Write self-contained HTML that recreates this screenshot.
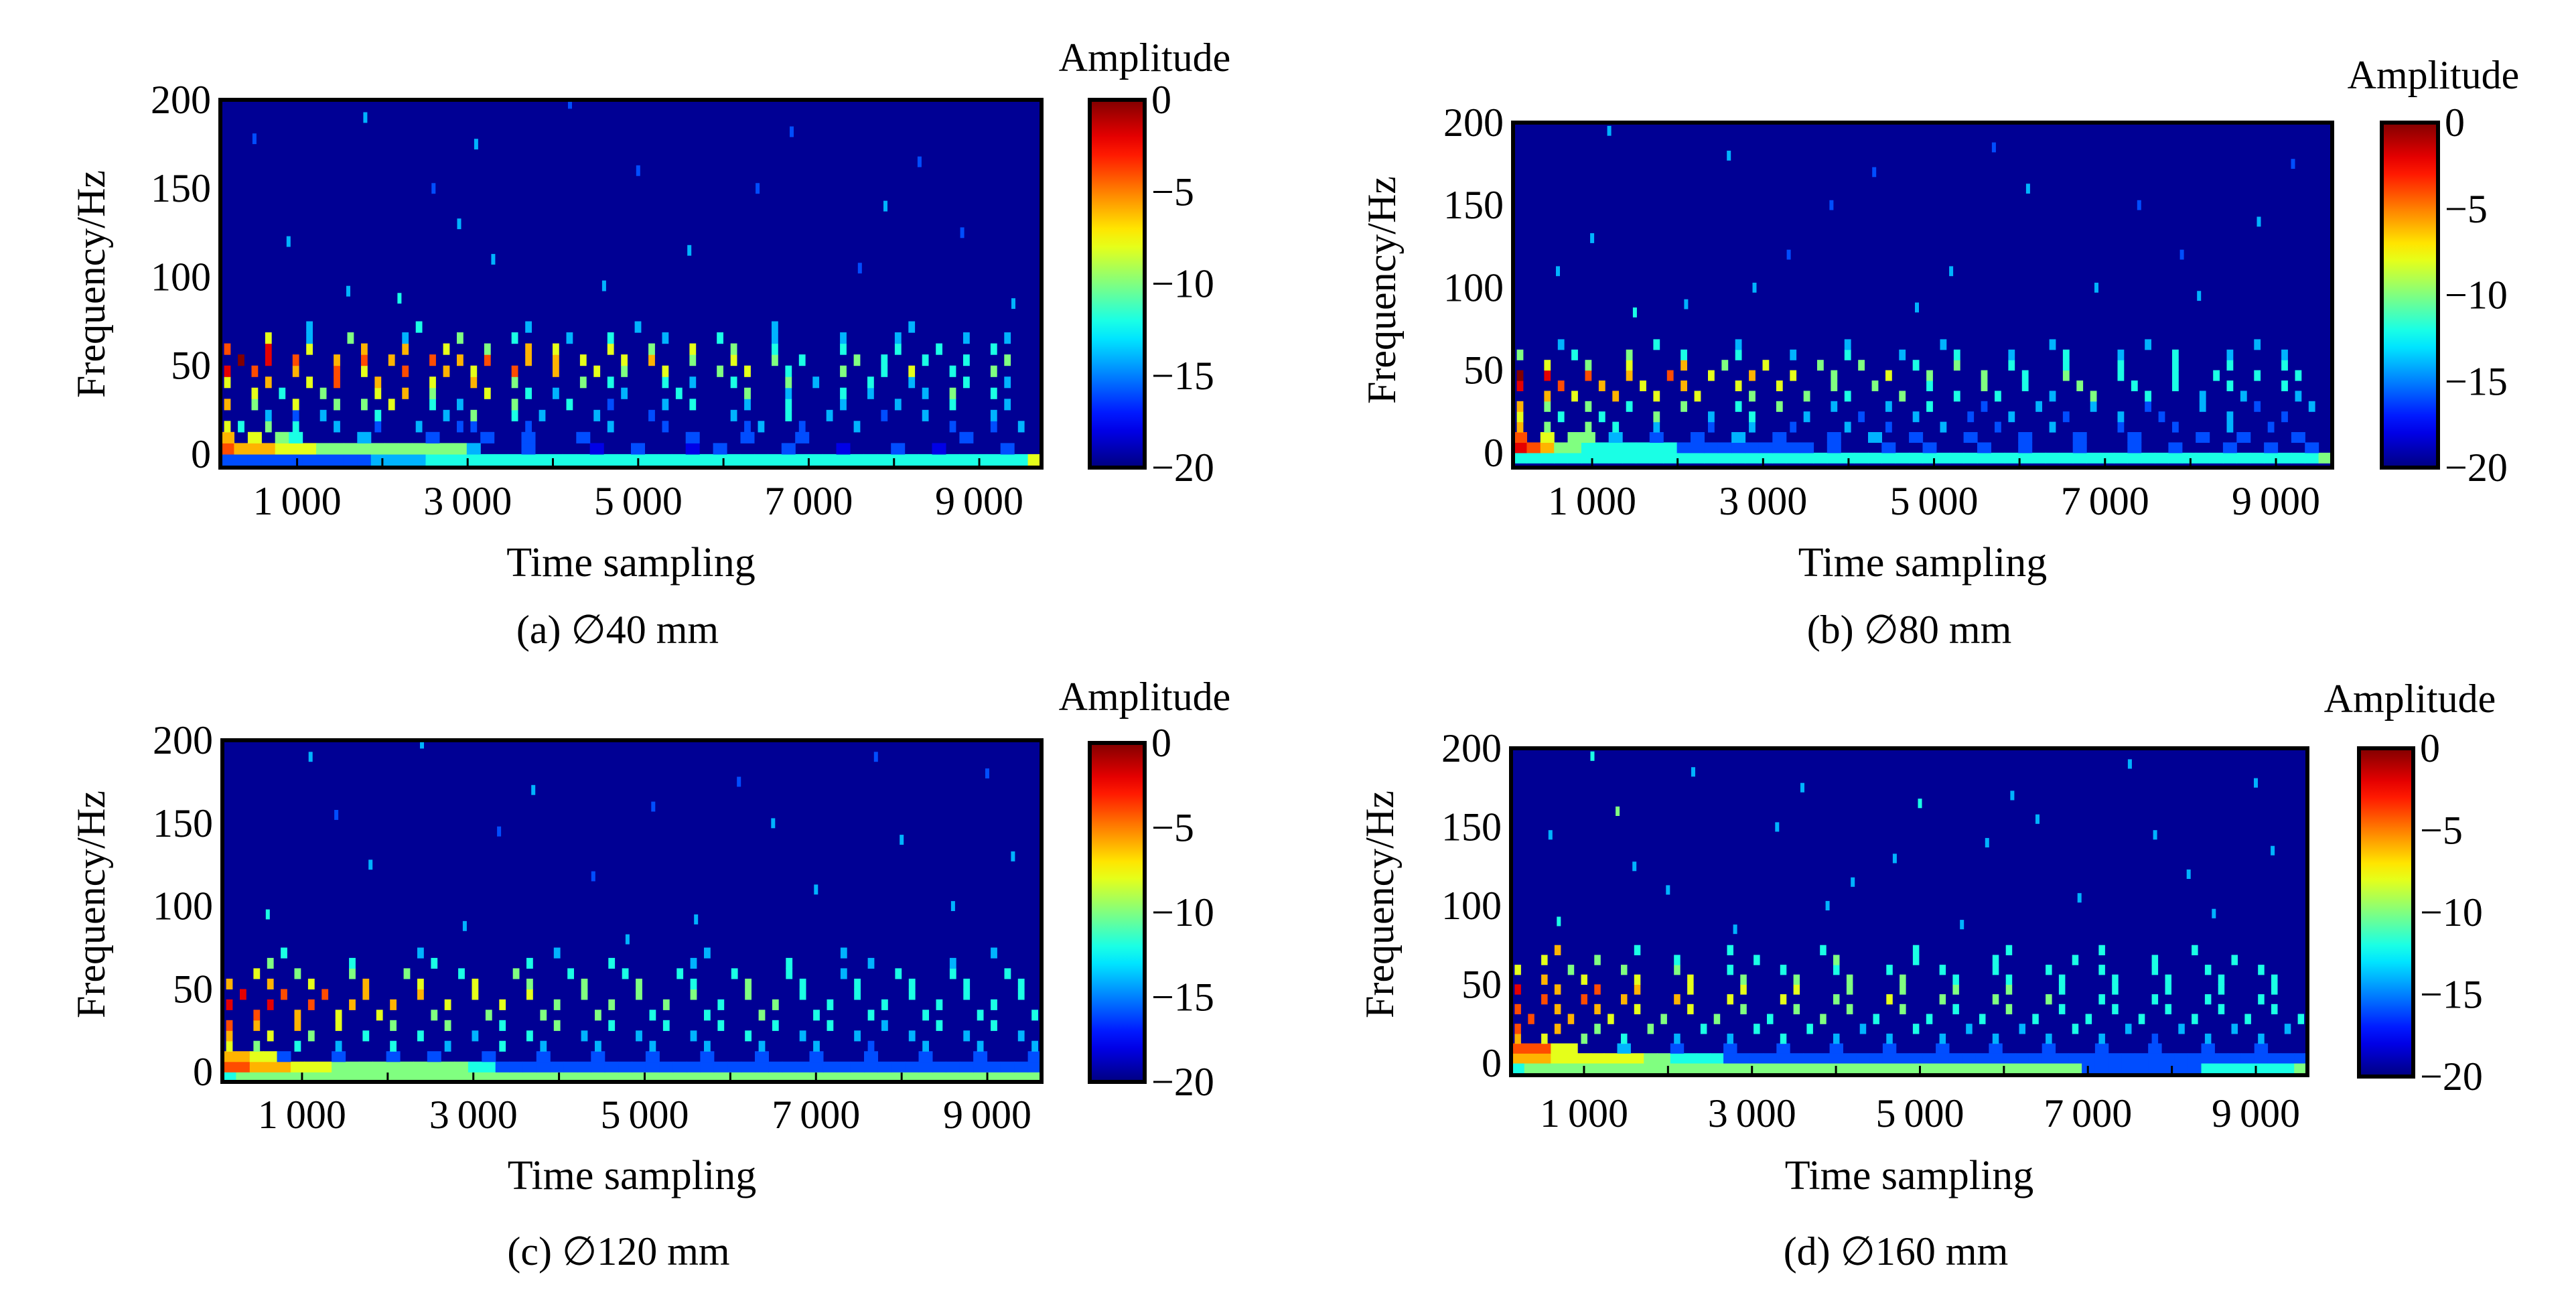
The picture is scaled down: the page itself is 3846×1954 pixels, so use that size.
<!DOCTYPE html>
<html><head><meta charset="utf-8"><style>
html,body{margin:0;padding:0;background:#fff;}
svg text{font-family:"Liberation Serif",serif;fill:#000;}
</style></head><body>
<svg id="fig" xmlns="http://www.w3.org/2000/svg" width="3846" height="1949" viewBox="0 0 3846 1949"></svg>
<script>
// ---------- data (amplitude codes: '.'=-20, digit d => -20+2d, 'a'=0) ----------
// rows are frequency bands, index 0 = lowest band; bands are 6.25 Hz wide starting at -6.25 Hz
const rowsA = [
"222222222223333444444444444444444444444444444444444444444446",
"8777666555555555553...2....1..2...1.2....2...1...2..1....2..",
"7.6.54....3....2...2..2...2.......2...2...2...........2.....",
"64.5.4..3..2..3..22...2.....3...2.....23..2...3......2..2.3.",
"...3.2.3...4....3.5..4.3...3...2.....3...4..3...2..3....3...",
"7.5..6..5.5.6..4.3...5...4..2...3.4...3..4...3...3...4...3..",
"..6.4..5...6.7.5...6..4.3....3...4....5..3...4.3...3.5..4...",
"6..7..6.8..7...6..7..5....5.4...4.3..4...5.3...4..3...4..3..",
"9.8..7..8.6..8..7.6..8..7..6.5..6...5.6..4...5..4.6..4..5...",
".a.9.8..7.8.7..8.7.8..7.7.6..6.7..5..6..5.4...5.4..4..4..5..",
"8..9..6...7..7..6..5..7.6...6..5..6..5..4....4...4..4...4...",
"...6..3..5...3...5...4...3..4...3...4...3....3...3....3..3..",
"......3.......4.......3.......3.........3.........3........."
];
const rowsB = [
"444444444444444444444444444444444444444444444444444444444445",
"9875544444442222222222.2...2..2...2..2...2...2..2...2..2..2.",
"8.6.55.3..2..2..3..2...2..3..2...2...2...2...2....2..2...2..",
"7.5..5.4..3...2..3..2...3..2...3...2...3....2...2...3..2....",
"6..4..4...5...3..4...3...2...3...2..3...2...3..2....3...2...",
"7.5..5..4...5...4..5...3...3..4...2...3...3...2...3...2...3.",
"..7.6..7..6..6...5...5..4...5...4..4...3..5...4...3..3...3..",
"9..8..7..6..7...6..6...5..5...4...5..4...5...4..4...4...4...",
"a.9..8..7..8..6..7..6..5...6..5...5..4..5...4...4..4..4..4..",
"..6..5..6...7..5..6...5..5...4..5...4...4...4...4...4...4...",
"5...4...5...4...4...3...4...3...4...3...4...3...4...3...3...",
"...3......4.....3.......3......3.......3......3.......3....."
];
const rowsC = [
"455555555555555555555555555555555555555555555555555555555555",
"8877766655555555554422222222222222222222222222222222222222222",
"77662...2...2..2...2...2...2...2...2...2...2...2...2...2...2",
"6.5..4..3...4...3...4..3...3...3...3...3...3...2...3...3...3",
"7..6..5...4...4...3...4...3...3...3...4...3...3...3...3...3.",
"8.7..7..6...5...5...4...5...4...4...4...4...4...3...4...4...",
"..8..7..6..6...5...5...5...5...4...4...5...4...4...4...4...4",
"9..9..8..7..7...6...6...5...5...5...4...5...4...4...4...4...",
".9..8..8..7...7...6...6...5...5...5...5...4...4...4...4...4.",
"7..7..6...7...6...6...5...5...5...4...5...4...4...4...4...4.",
"..6..5...5...5...4...5...4...4...4...4...4...3...4...4...4..",
"...5.....4.....4......4.....4.....3......4.....3.....3......",
"....4.........3.........3..........3.........3..........3..."
];
const rowsD = [
"455555555555555555555555555555555555555555522222222244444445",
"777666666655444422222222222222222222222222222222222222222222",
"88866...3...2...2...2...2...2...2...2...2...2...2...2...2...",
"7.6..5..4...3...3...4...3...3...3...3...3...3...2...3...3...",
"8..7..5...5...4...4...4...3...4...3...3...4...3...3...3...3.",
".8..7..6...5...5...4...5...4...4...4...4...4...4...4...4...4",
"8..7..7..6...6...5...5...5...5...4...5...4...4...4...4...4..",
"..8..8..7...7...6...6...5...6...5...5...5...4...4...4...4...",
"9..7..8..7...6...6...6...5...5...5...5...4...4...4...4...4..",
"..7..6...6...6...5...5...5...5...4...4...4...4...4...4...4..",
"6...5...5...5...4...4...4...4...4...4...4...4...4...4...4...",
"..6...5.....4.....4.....5.....4.....4.....4.....4.....4.....",
"...7.....4......4......4......4......4......4......4........"
];
// sparse high-frequency specks: [time sample, frequency Hz, code]
const specksA = [[1800,190,3],[3100,175,3],[5000,160,2],[6400,150,2],[2900,130,3],[900,120,3],[3300,110,3],[7600,105,2],[4600,95,3],[1600,92,3],[2200,88,4],[9400,85,3],[500,178,2],[7900,140,3],[8800,125,2],[5600,115,3],[6800,182,2],[4200,198,2],[8300,165,2],[2600,150,2]];
const specksB = [[1200,195,3],[2600,180,3],[4300,170,2],[6100,160,3],[7400,150,2],[8800,140,3],[1000,130,3],[3300,120,2],[5200,110,3],[6900,100,3],[8100,95,3],[2100,90,3],[1500,85,4],[4800,88,3],[9200,175,2],[3800,150,2],[5700,185,2],[7900,120,2],[600,110,3],[2900,100,3]];
const specksC = [[1100,190,3],[2400,198,3],[3700,170,3],[5100,160,2],[6500,150,3],[8000,140,3],[9300,130,3],[1800,125,3],[4400,118,2],[7000,110,3],[8600,100,3],[600,95,4],[2900,88,3],[5600,92,3],[9000,180,2],[3300,145,2],[6100,175,2],[7700,190,2],[1400,155,2],[4800,80,3]];
const specksD = [[1100,195,4],[2300,185,3],[3600,175,3],[5000,165,4],[6400,155,3],[7800,145,3],[9200,135,3],[1600,125,3],[4200,115,3],[6900,105,3],[8500,95,3],[700,90,4],[2800,85,3],[5500,88,3],[9000,178,3],[3300,150,3],[6100,170,3],[7500,190,3],[1400,160,5],[4700,130,3],[8200,120,3],[2000,110,3],[5800,140,3],[3900,100,3],[600,145,3]];
const yTicks = [0,50,100,150,200];
const xTicks = [1000,3000,5000,7000,9000];
const cbTicks = [0,-5,-10,-15,-20];
const captions = ["(a) \u220540 mm","(b) \u220580 mm","(c) \u2205120 mm","(d) \u2205160 mm"];

// ---------- layout ----------
const panels = [
 {id:'a',rows:rowsA,specks:specksA,L:329,R:1555,T:149,B:698,x0:100,x1:9730,fMin:-7.6,cbL:1627,cbR:1709,cbT:149,cbB:698,ampX:1709,ampY:106,tickY:768,xlabY:860,capY:960,ytX:136,ytY:424},
 {id:'b',rows:rowsB,specks:specksB,L:2259,R:3482,T:183,B:698,x0:75,x1:9658,fMin:-9,cbL:3556,cbR:3640,cbT:183,cbB:698,ampX:3633,ampY:132,tickY:768,xlabY:860,capY:960,ytX:2063,ytY:433},
 {id:'c',rows:rowsC,specks:specksC,L:332,R:1555,T:1105,B:1615,x0:70,x1:9633,fMin:-6,cbL:1627,cbR:1709,cbT:1109,cbB:1615,ampX:1709,ampY:1060,tickY:1684,xlabY:1775,capY:1888,ytX:136,ytY:1350},
 {id:'d',rows:rowsD,specks:specksD,L:2256,R:3445,T:1117,B:1605,x0:131,x1:9614,fMin:-7.7,cbL:3522,cbR:3603,cbT:1117,cbB:1607,ampX:3598,ampY:1063,tickY:1682,xlabY:1775,capY:1888,ytX:2060,ytY:1350}
];
const NS='http://www.w3.org/2000/svg';
const svg=document.getElementById('fig');
function mk(tag,attrs,parent){const e=document.createElementNS(NS,tag);for(const k in attrs)e.setAttribute(k,attrs[k]);(parent||svg).appendChild(e);return e;}
function cl(x){return Math.max(0,Math.min(1,x));}
function jet(v){const r=cl(1.5-Math.abs(4*v-3)),g=cl(1.5-Math.abs(4*v-2)),b=cl(1.5-Math.abs(4*v-1));return `rgb(${Math.round(r*255)},${Math.round(g*255)},${Math.round(b*255)})`;}
function codeVal(c){if(c==='a')return 0;const d=parseInt(c,10);return isNaN(d)?null:-20+2*d;}
const BAND=6.25, NCOL=60;

panels.forEach(p=>{
  const g=mk('g',{});
  
  
  const sx=t=>p.L+(t-p.x0)/(p.x1-p.x0)*(p.R-p.L);
  const sy=f=>p.B-(f-p.fMin)/(200-p.fMin)*(p.B-p.T);
  const clipId='clip'+p.id;
  const cp=mk('clipPath',{id:clipId},g);mk('rect',{x:p.L,y:p.T,width:p.R-p.L,height:p.B-p.T},cp);
  const bg=mk('rect',{x:p.L,y:p.T,width:p.R-p.L,height:p.B-p.T,fill:jet(0.02)},g);
  
  
  const hm=mk('g',{'clip-path':`url(#${clipId})`},g);
  
  
  const tStep=(p.x1-p.x0)/NCOL;
  p.rows.forEach((row,ri)=>{
    const f0=-BAND+ri*BAND, f1=f0+BAND;
    for(let ci=0;ci<Math.min(row.length,NCOL);ci++){
      const v=codeVal(row[ci]);if(v===null)continue;
      const t0=p.x0+ci*tStep, t1=t0+tStep;
      let xa=sx(t0), xb=sx(t1);
      if(ri>2){const w=(xb-xa)*0.45;xa=xa+(xb-xa-w)/2;xb=xa+w;}
      const y0=sy(f1), y1=sy(f0);
      const r=mk('rect',{x:xa.toFixed(1),y:y0.toFixed(1),width:(xb-xa+0.6).toFixed(1),height:(y1-y0+0.6).toFixed(1),fill:jet((v+20)/20)},hm);
      
      
    }
  });
  p.specks.forEach(s=>{
    const v=-20+2*s[2];
    const r=mk('rect',{x:(sx(s[0])-3).toFixed(1),y:sy(s[1]+3).toFixed(1),width:6,height:(sy(s[1]-3)-sy(s[1]+3)).toFixed(1),fill:jet((v+20)/20)},hm);
    
    
  });
  for(let t=1000;t<p.x1;t+=1000){
    const x=sx(t);
    mk('line',{x1:x,y1:p.B,x2:x,y2:p.B-14,stroke:'#000','stroke-width':3},g);
  }
  const fr=mk('rect',{x:p.L,y:p.T,width:p.R-p.L,height:p.B-p.T,fill:'none',stroke:'#000','stroke-width':6},g);
  
  
  yTicks.forEach(f=>{
    const t=mk('text',{x:p.L-14,y:sy(f)+20,'font-size':60,'text-anchor':'end'},g);t.textContent=f;
    
    
  });
  xTicks.forEach(v=>{
    const t=mk('text',{x:sx(v),y:p.tickY,'font-size':60,'text-anchor':'middle'},g);t.textContent=v.toLocaleString('en').replace(',','\u2009');
    
    
  });
  const xl=mk('text',{x:(p.L+p.R)/2,y:p.xlabY,'font-size':62,'text-anchor':'middle'},g);xl.textContent='Time sampling';
  
  
  const yl=mk('text',{x:0,y:0,'font-size':60,'text-anchor':'middle',transform:`translate(${p.ytX+20},${p.ytY}) rotate(-90)`},g);yl.textContent='Frequency/Hz';
  
  
  const cap=mk('text',{x:(p.L+p.R)/2-20,y:p.capY,'font-size':60,'text-anchor':'middle'},g);cap.textContent=captions['abcd'.indexOf(p.id)];
  
  
  const gid='grad'+p.id;
  const lg=mk('linearGradient',{id:gid,x1:0,y1:1,x2:0,y2:0},g);
  for(let i=0;i<=20;i++){mk('stop',{offset:i/20,'stop-color':jet(i/20)},lg);}
  const cb=mk('rect',{x:p.cbL,y:p.cbT,width:p.cbR-p.cbL,height:p.cbB-p.cbT,fill:`url(#${gid})`,stroke:'#000','stroke-width':6},g);
  
  
  cbTicks.forEach(v=>{
    const y=p.cbT+(-v)/20*(p.cbB-p.cbT);
    const t=mk('text',{x:p.cbR+10,y:y+20,'font-size':60},g);t.textContent=v===0?'0':'\u2212'+(-v);
    
    
  });
  const am=mk('text',{x:p.ampX,y:p.ampY,'font-size':60,'text-anchor':'middle'},g);am.textContent='Amplitude';
  
  
});
</script>
</body></html>
